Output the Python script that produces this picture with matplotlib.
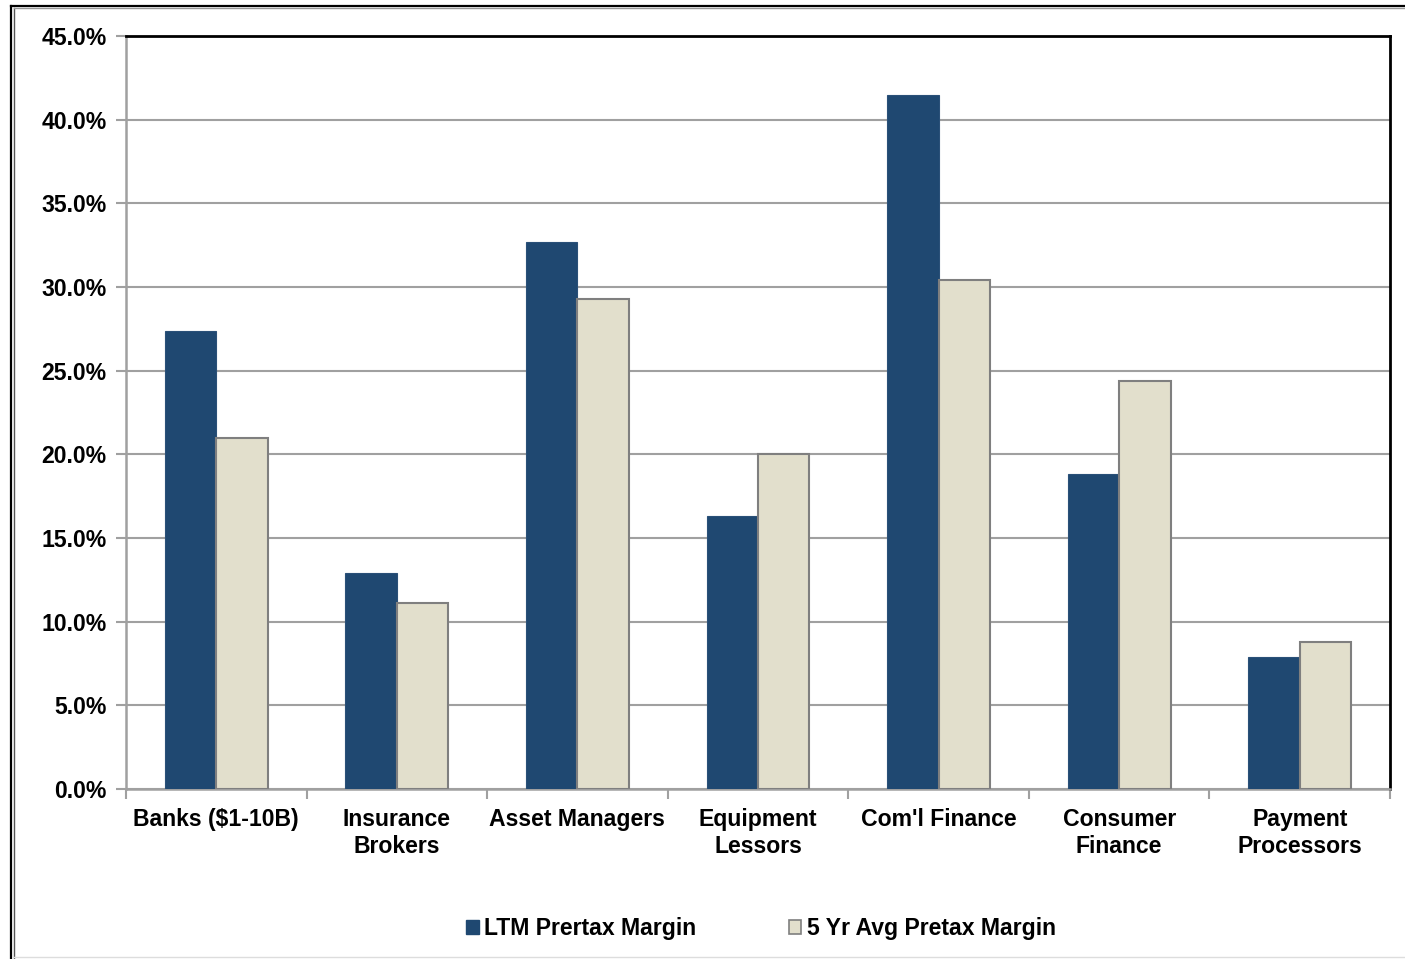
import matplotlib
matplotlib.use("Agg")
import matplotlib.pyplot as plt
import numpy as np
from matplotlib.lines import Line2D
from matplotlib.patches import Patch

categories = ["Banks ($1-10B)", "Insurance\nBrokers", "Asset Managers", "Equipment\nLessors",
              "Com'l Finance", "Consumer\nFinance", "Payment\nProcessors"]
ltm_margin = [27.4, 12.9, 32.7, 16.3, 41.5, 18.8, 7.9]
avg5_margin = [21.0, 11.1, 29.3, 20.0, 30.4, 24.4, 8.8]
series_names = ["LTM Prertax Margin", "5 Yr Avg Pretax Margin"]
yticks = [0, 5, 10, 15, 20, 25, 30, 35, 40, 45]

plt.rcParams['font.family'] = ['Liberation Sans', 'DejaVu Sans']
plt.rcParams['font.weight'] = 'bold'

FS = 16.6
W, H = 1405, 959
fig = plt.figure(figsize=(W / 100, H / 100), dpi=100)
ax = fig.add_axes([126 / W, 1 - 789 / H, (1390 - 126) / W, (789 - 36) / H])

navy = "#1F4871"
beige = "#E2DFCC"
x = np.arange(len(categories))
bw = 0.285
ax.bar(x - bw / 2, ltm_margin, bw, color=navy, edgecolor="#2A5078", linewidth=0.8, zorder=3)
ax.bar(x + bw / 2, avg5_margin, bw, color=beige, edgecolor="#7F7F7F", linewidth=1.5, zorder=3)

ax.set_xlim(-0.5, len(categories) - 0.5)
ax.set_ylim(0, 45)
ax.set_yticks(yticks)
ax.set_yticklabels([f"{v:.1f}%" for v in yticks], fontsize=FS, fontweight='bold')
ax.yaxis.grid(True, color="#A0A0A0", linewidth=1.5, zorder=0)
ax.set_axisbelow(True)

ax.set_xticks(np.arange(len(categories) + 1) - 0.5, minor=False)
ax.set_xticklabels([])
ax.set_xticks(x, minor=True)
ax.set_xticklabels(categories, minor=True, fontsize=FS, fontweight='bold', linespacing=1.2)
ax.tick_params(axis='x', which='major', length=7, color="#A0A0A0", width=1.5)
ax.tick_params(axis='x', which='minor', length=0, pad=14)
ax.tick_params(axis='y', length=7, color="#A0A0A0", width=1.5, pad=7)

for s in ['left', 'bottom']:
    ax.spines[s].set_color("#A0A0A0")
    ax.spines[s].set_linewidth(1.8)
for s in ['top', 'right']:
    ax.spines[s].set_color("black")
    ax.spines[s].set_linewidth(2)

handles = [Patch(facecolor=navy, edgecolor=navy),
           Patch(facecolor=beige, edgecolor="#7F7F7F", linewidth=1.2)]
fig.legend(handles, series_names, loc='center', bbox_to_anchor=(761 / W, 1 - 929 / H),
           ncol=2, frameon=False, prop={'weight': 'bold', 'size': FS},
           handlelength=0.55, handleheight=0.55, handletextpad=0.25, columnspacing=4.0)

# outer frame
fig.add_artist(Line2D([10.5 / W, 10.5 / W], [0, 1 - 5.5 / H], color='black', lw=1.6, transform=fig.transFigure))
fig.add_artist(Line2D([13.5 / W, 13.5 / W], [0, 1 - 8 / H], color='#555555', lw=1.0, transform=fig.transFigure))
fig.add_artist(Line2D([10.5 / W, 1], [1 - 5.5 / H, 1 - 5.5 / H], color='black', lw=1.6, transform=fig.transFigure))
fig.add_artist(Line2D([13.5 / W, 1], [1 - 8 / H, 1 - 8 / H], color='#999999', lw=1.0, transform=fig.transFigure))
fig.add_artist(Line2D([13.5 / W, 1], [1 - 957 / H, 1 - 957 / H], color='#DDDDDD', lw=1.0, transform=fig.transFigure))

fig.savefig("out.png", dpi=100)
